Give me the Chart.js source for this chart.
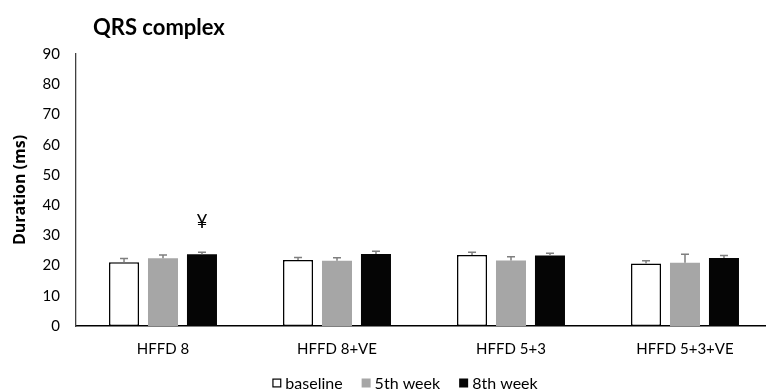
<!DOCTYPE html>
<html>
<head>
<meta charset="utf-8">
<script src="https://cdn.jsdelivr.net/npm/chart.js@4/dist/chart.umd.min.js"></script>
<style>
  html, body { margin: 0; padding: 0; background: #fff; overflow: hidden; }
  #wrap { position: relative; width: 766px; height: 392px; overflow: hidden; }
  canvas { display: block; }
</style>
</head>
<body>
<div id="wrap"><canvas id="c" width="772" height="392"></canvas></div>
<script>
const categories = ['HFFD 8', 'HFFD 8+VE', 'HFFD 5+3', 'HFFD 5+3+VE'];
const seriesNames = ['baseline', '5th week', '8th week'];
const baseline = [21.1, 21.8, 23.5, 20.7];
const week5 = [22.4, 21.6, 21.7, 20.9];
const week8 = [23.7, 23.8, 23.3, 22.5];
const baselineErr = [1.2, 0.9, 0.9, 0.9];
const week5Err = [1.1, 1.0, 1.2, 2.8];
const week8Err = [0.7, 0.9, 0.8, 0.8];
const yTicks = [0, 10, 20, 30, 40, 50, 60, 70, 80, 90];
const annotations = [{ series: 2, category: 0, text: '¥' }];

const FONT = "Lato, 'Open Sans', sans-serif";
const errors = [baselineErr, week5Err, week8Err];

const extras = {
  id: 'extras',
  afterDatasetsDraw(chart) {
    const ctx = chart.ctx;
    const y = chart.scales.y;
    ctx.save();
    ctx.strokeStyle = '#7f7f7f';
    ctx.lineWidth = 1.5;
    chart.data.datasets.forEach((ds, di) => {
      const meta = chart.getDatasetMeta(di);
      meta.data.forEach((bar, i) => {
        const top = y.getPixelForValue(ds.data[i] + errors[di][i]);
        ctx.beginPath();
        ctx.moveTo(bar.x, bar.y);
        ctx.lineTo(bar.x, top);
        ctx.moveTo(bar.x - 4, top);
        ctx.lineTo(bar.x + 4, top);
        ctx.stroke();
      });
    });
    ctx.fillStyle = '#000';
    ctx.font = '19px ' + FONT;
    ctx.textAlign = 'center';
    ctx.textBaseline = 'middle';
    annotations.forEach(a => {
      const bar = chart.getDatasetMeta(a.series).data[a.category];
      const v = chart.data.datasets[a.series].data[a.category] + errors[a.series][a.category];
      ctx.fillText(a.text, bar.x, y.getPixelForValue(v) - 30);
    });
    ctx.restore();
  },
  afterDraw(chart) {
    const ctx = chart.ctx;
    ctx.save();
    ctx.fillStyle = '#000';
    ctx.font = 'bold 22px ' + FONT;
    ctx.textAlign = 'left';
    ctx.textBaseline = 'middle';
    ctx.fillText('QRS complex', 93, 28);
    ctx.font = '16px ' + FONT;
    const box = 9, gapBoxText = 4, gapItems = 19;
    const items = chart.data.datasets.map(ds => ({ ds, w: box + gapBoxText + ctx.measureText(ds.label).width }));
    const total = items.reduce((s, it) => s + it.w, 0) + gapItems * (items.length - 1);
    let x = 405 - total / 2;
    const cy = 383;
    items.forEach(it => {
      ctx.fillStyle = it.ds.backgroundColor;
      ctx.fillRect(x, cy - box / 2, box, box);
      if (it.ds.borderWidth) {
        ctx.strokeStyle = '#000';
        ctx.lineWidth = 1.2;
        ctx.strokeRect(x + 0.6, cy - box / 2 + 0.6, box - 1.2, box - 1.2);
      }
      ctx.fillStyle = '#000';
      ctx.fillText(it.ds.label, x + box + gapBoxText, cy + 1);
      x += it.w + gapItems;
    });
    ctx.restore();
  }
};

new Chart(document.getElementById('c'), {
  type: 'bar',
  data: {
    labels: categories,
    datasets: [
      { label: seriesNames[0], data: baseline, backgroundColor: '#ffffff', borderColor: '#000', borderWidth: 1.5, borderSkipped: false },
      { label: seriesNames[1], data: week5, backgroundColor: '#a6a6a6', borderWidth: 0 },
      { label: seriesNames[2], data: week8, backgroundColor: '#050505', borderWidth: 0 }
    ]
  },
  options: {
    responsive: false,
    animation: false,
    devicePixelRatio: 1,
    layout: { padding: { top: 54, right: 0, left: 0, bottom: 0 } },
    categoryPercentage: 0.672,
    barPercentage: 0.77,
    plugins: { legend: { display: false }, tooltip: { enabled: false }, title: { display: false } },
    scales: {
      x: {
        grid: { display: false, drawTicks: false },
        border: { display: true, color: '#000', width: 1.5 },
        ticks: { color: '#000', font: { family: FONT, size: 15 }, padding: 14, maxRotation: 0 },
        afterFit(s) { s.height = 66; }
      },
      y: {
        min: 0, max: 90,
        afterBuildTicks(s) { s.ticks = yTicks.map(v => ({ value: v })); },
        grid: { display: false, drawTicks: false },
        border: { display: true, color: '#404040', width: 1.3 },
        ticks: { color: '#000', font: { family: FONT, size: 15 }, padding: 16 },
        title: { display: true, text: 'Duration (ms)', color: '#000', font: { family: "'Open Sans', sans-serif", size: 16, weight: 'bold' }, padding: { top: 11, bottom: 0 } },
        afterFit(s) { s.width = 76; }
      }
    }
  },
  plugins: [extras]
});
</script>
</body>
</html>
